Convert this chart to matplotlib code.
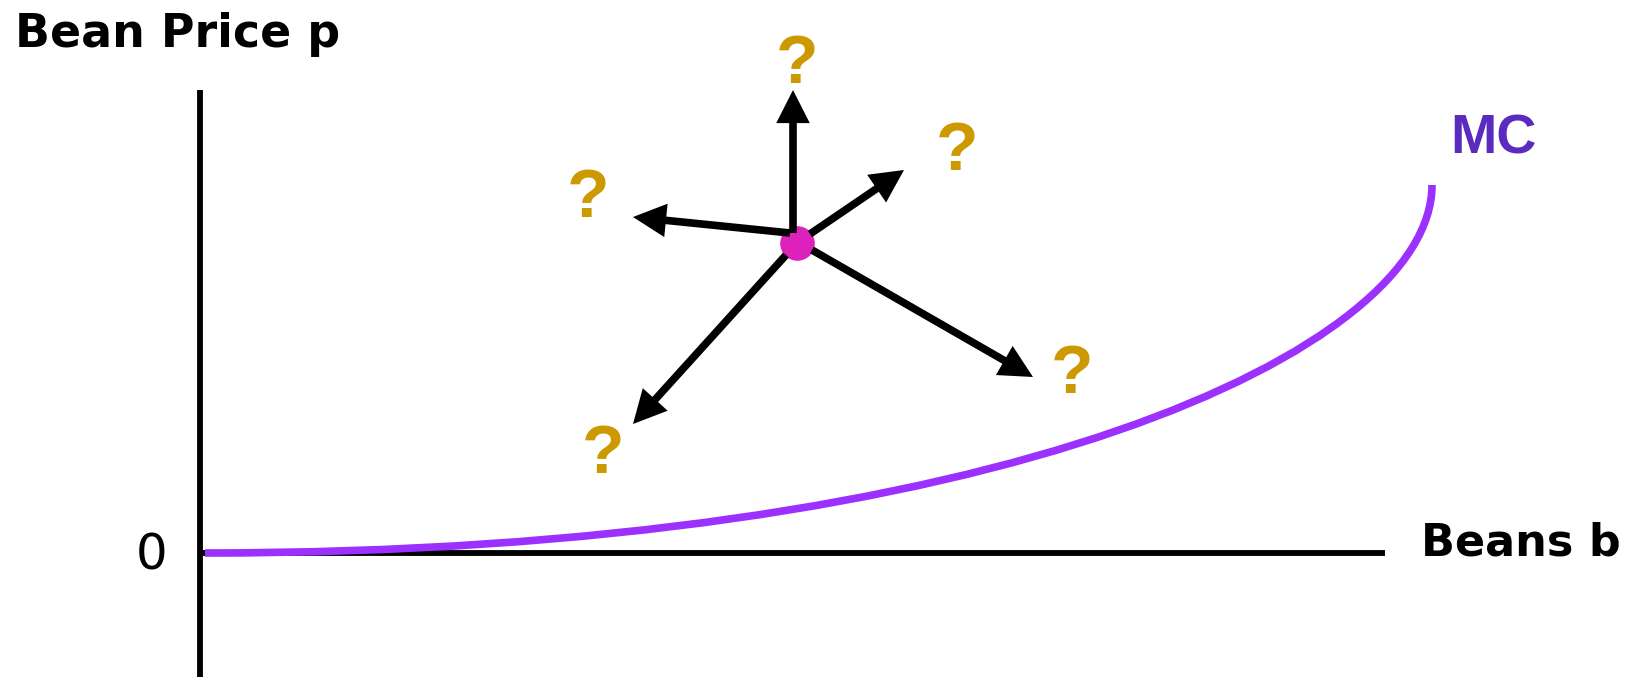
import matplotlib
matplotlib.use("Agg")
import matplotlib.pyplot as plt
from matplotlib.path import Path
from matplotlib.patches import PathPatch

# Chart units: 1 unit = 100 px, origin at the axes corner
# MC curve as a cubic Bezier (start, two control points, end)
mc_x = [0.05, 8.0, 12.32, 12.32]
mc_y = [0.0, 0.0, 2.03, 3.68]

# current point and the five directions it might move
# order: up, upper right, left, lower left, lower right
point_x, point_y = 5.97, 3.10
tip_x = [5.93, 7.04, 4.33, 4.33, 8.33]
tip_y = [4.63, 3.83, 3.36, 1.29, 1.76]
start_x = [5.93, 6.10, 5.90, 5.86, 6.12]
start_y = [3.20, 3.19, 3.20, 2.98, 3.03]

# question mark labels (baseline positions)
q_x = [5.97, 7.57, 3.88, 4.03, 8.72]
q_y = [4.70, 3.83, 3.36, 0.80, 1.60]

x_axis_end = 11.85
y_axis_top = 4.63

BLACK = "black"
PURPLE = "#9b30ff"
MC_LABEL = "#5b2bc0"
GOLD = "#cc9900"
MAGENTA = "#dd22bb"

fig = plt.figure(figsize=(16.33, 6.77), dpi=100)
ax = fig.add_axes([0, 0, 1, 1])
ax.set_xlim(-2.0, 14.33)
ax.set_ylim(-1.24, 5.53)
ax.axis("off")

# axes
ax.plot([0, 0], [-1.24, y_axis_top], color=BLACK, lw=4.2, solid_capstyle="butt", zorder=1)
ax.plot([0, x_axis_end], [0, 0], color=BLACK, lw=4.2, solid_capstyle="butt", zorder=1)

# MC curve
codes = [Path.MOVETO, Path.CURVE4, Path.CURVE4, Path.CURVE4]
mc_path = Path(list(zip(mc_x, mc_y)), codes)
ax.add_patch(PathPatch(mc_path, facecolor="none", edgecolor=PURPLE, lw=5.5,
                       capstyle="butt", zorder=2))

ax.scatter([point_x], [point_y], s=620, color=MAGENTA, zorder=3, linewidths=0)

# arrows
for sx, sy, tx, ty in zip(start_x, start_y, tip_x, tip_y):
    ax.annotate("", xy=(tx, ty), xytext=(sx, sy),
                arrowprops=dict(arrowstyle="-|>,head_length=0.75,head_width=0.38",
                                mutation_scale=20, color=BLACK, lw=5.5,
                                joinstyle="miter", capstyle="butt",
                                shrinkA=0, shrinkB=0),
                zorder=4)

for qx, qy in zip(q_x, q_y):
    ax.text(qx, qy, "?", color=GOLD, fontsize=50, fontweight="bold",
            family="Liberation Sans", ha="center", va="baseline")

# labels
ax.text(-1.85, 5.06, "Bean Price p", fontsize=33, fontweight="bold",
        family="DejaVu Sans", ha="left", va="baseline")
ax.text(12.21, -0.02, "Beans b", fontsize=32, fontweight="bold",
        family="DejaVu Sans", ha="left", va="baseline")
ax.text(12.50, 4.0, "MC", fontsize=40, fontweight="bold", color=MC_LABEL,
        family="Liberation Sans", ha="left", va="baseline")
ax.text(-0.48, -0.17, "0", fontsize=36, family="DejaVu Sans",
        ha="center", va="baseline")

fig.savefig("out.png", dpi=100)
